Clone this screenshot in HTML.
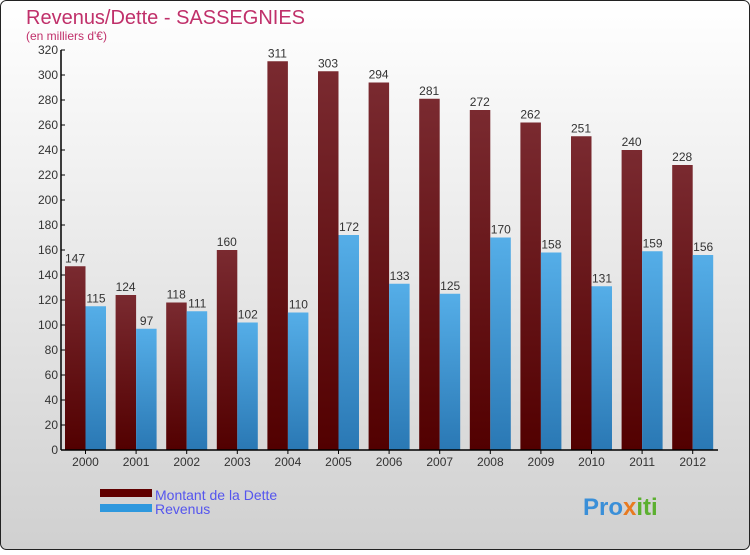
<!DOCTYPE html>
<html><head><meta charset="utf-8"><style>
body{margin:0}
#c{width:750px;height:550px;position:relative;font-family:"Liberation Sans",sans-serif}
</style></head><body>
<div id="c">
<svg id="s" width="750" height="550" xmlns="http://www.w3.org/2000/svg">
<defs>
<linearGradient id="bg" x1="0" y1="0" x2="0" y2="1"><stop offset="0" stop-color="#ffffff"/><stop offset="1" stop-color="#d0d0d0"/></linearGradient>
<linearGradient id="gd" x1="0" y1="0" x2="0" y2="1"><stop offset="0" stop-color="#7a2a30"/><stop offset="1" stop-color="#520000"/></linearGradient>
<linearGradient id="gr" x1="0" y1="0" x2="0" y2="1"><stop offset="0" stop-color="#55aee8"/><stop offset="1" stop-color="#2a78b4"/></linearGradient>
</defs>
<rect x="0.5" y="0.5" width="749" height="549" rx="6" fill="url(#bg)" stroke="#222"/>
<text x="26" y="24" font-size="20" fill="#c0306a">Revenus/Dette - SASSEGNIES</text>
<text x="26" y="40" font-size="12" fill="#c0306a">(en milliers d'€)</text>
<g id="bars"></g>
<g id="axes"></g>
<rect x="100" y="489" width="52" height="8" fill="#600000"/>
<text x="155" y="500" font-size="14" fill="#5555ee">Montant de la Dette</text>
<rect x="100" y="504" width="52" height="8" fill="#2e98de"/>
<text x="155" y="514" font-size="14" fill="#5555ee">Revenus</text>
<text x="583" y="515" font-size="24" font-weight="bold" fill="#3a8fd8">Pro<tspan fill="#e87a20">x</tspan><tspan fill="#5cb030">iti</tspan></text>
</svg>
</div>
<script>
const years=["2000","2001","2002","2003","2004","2005","2006","2007","2008","2009","2010","2011","2012"];
const dette=[147,124,118,160,311,303,294,281,272,262,251,240,228];
const revenus=[115,97,111,102,110,172,133,125,170,158,131,159,156];
const yTicks=[0,20,40,60,80,100,120,140,160,180,200,220,240,260,280,300,320];
const NS="http://www.w3.org/2000/svg";
const x0=61,step=50.6,y0=450,ys=400/320;
const Y=v=>y0-v*ys, X=i=>x0+4+i*step;
function mk(t,a,p,txt){const e=document.createElementNS(NS,t);for(const k in a)e.setAttribute(k,a[k]);if(txt!==undefined)e.textContent=txt;p.appendChild(e);return e;}
const B=document.getElementById('bars'),A=document.getElementById('axes');
years.forEach((yr,i)=>{
 const x=X(i);
 let r=mk('rect',{x:x,y:Y(dette[i]),width:20.5,height:dette[i]*ys,fill:'url(#gd)'},B);
 
 
 let r2=mk('rect',{x:x+20.5,y:Y(revenus[i]),width:20.5,height:revenus[i]*ys,fill:'url(#gr)'},B);
 
 
 let t=mk('text',{x:x+10,y:Y(dette[i])-4,'font-size':12,fill:'#333','text-anchor':'middle'},B,dette[i]);
 
 
 let t2=mk('text',{x:x+31,y:Y(revenus[i])-4,'font-size':12,fill:'#333','text-anchor':'middle'},B,revenus[i]);
 
 
 mk('line',{x1:x+20.5,x2:x+20.5,y1:y0,y2:y0+4,stroke:'#000'},A);
 let l=mk('text',{x:x+20.5,y:y0+16,'font-size':12,fill:'#333','text-anchor':'middle'},A,yr);
 
 
});
yTicks.forEach(v=>{
 mk('line',{x1:x0,x2:x0+4,y1:Y(v),y2:Y(v),stroke:'#000'},A);
 let l=mk('text',{x:x0-3,y:Y(v)+4,'font-size':12,fill:'#333','text-anchor':'end'},A,v);
 
 
});
let ya=mk('line',{x1:x0,x2:x0,y1:Y(320),y2:y0,stroke:'#000','stroke-width':1.5},A);


let xa=mk('line',{x1:x0,x2:718,y1:y0,y2:y0,stroke:'#000','stroke-width':1.5},A);


</script>
</body></html>
